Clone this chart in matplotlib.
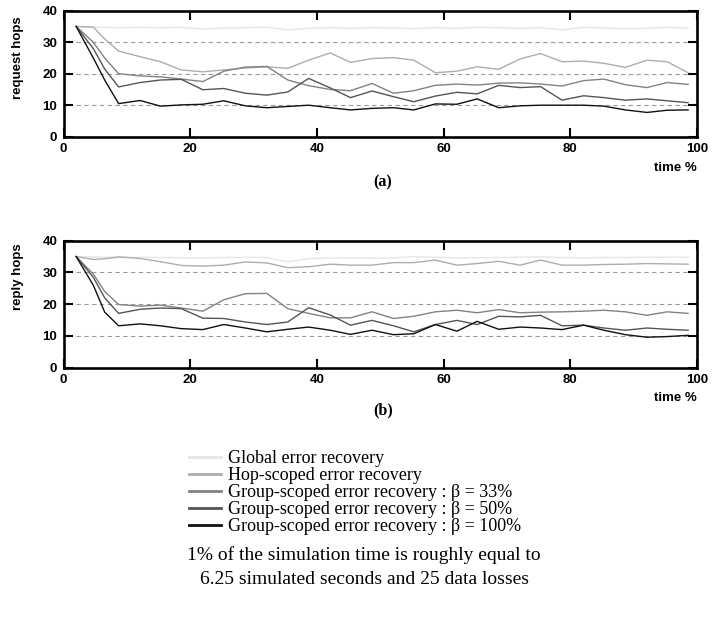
import matplotlib
matplotlib.use("Agg")
import matplotlib.pyplot as plt

time_pct = [2, 4.7, 6.5, 8.7, 12.1, 15.3, 18.6, 22, 25.3, 28.7, 32.1, 35.4, 38.7, 42.1, 45.3,
            48.7, 52.1, 55.3, 58.7, 62.1, 65.3, 68.7, 72.1, 75.3, 78.7, 82.1, 85.3, 88.7, 92.1,
            95.3, 98.6]

# (a) request hops
req_global = [35, 34.8, 34.7, 34.6, 34.7, 34.6, 34.7, 34.2, 34.5, 34.6, 34.8, 33.9, 34.4, 34.6, 34.4,
              34.6, 34.5, 34.3, 34.6, 34.4, 34.7, 34.6, 34.4, 34.6, 33.9, 34.7, 34.5, 34.3, 34.4,
              34.7, 34.4]
req_hop = [35, 34.8, 31, 27.2, 25.4, 23.8, 21.2, 20.6, 21.2, 21.8, 22.2, 21.7, 24.3, 26.6, 23.6,
           24.8, 25.1, 24.3, 20.3, 20.8, 22.2, 21.4, 24.7, 26.4, 23.8, 24, 23.3, 22, 24.3,
           23.8, 20.3]
req_g33 = [35, 30, 25, 20, 19.3, 19, 18.3, 17.5, 20.8, 22.1, 22.3, 18, 16.2, 15, 14.6,
           16.9, 13.8, 14.6, 16.3, 16.7, 16.4, 17, 17.1, 16.7, 16.1, 17.8, 18.3, 16.5, 15.6,
           17.2, 16.6]
req_g50 = [35, 28, 21.5, 15.8, 17.2, 18, 18.2, 14.9, 15.3, 13.8, 13.2, 14.2, 18.5, 15.5, 12.4,
           14.5, 12.7, 11.1, 12.9, 14.1, 13.6, 16.3, 15.6, 15.9, 11.6, 13, 12.4, 11.6, 12,
           11.4, 10.8]
req_g100 = [35, 25, 18, 10.5, 11.5, 9.7, 10.1, 10.3, 11.4, 9.8, 9.2, 9.6, 10, 9.2, 8.5,
            9, 9.2, 8.5, 10.4, 10.3, 12, 9.2, 9.8, 10, 10, 10, 9.7, 8.5, 7.7,
            8.4, 8.5]

# (b) reply hops
rep_global = [35, 34.9, 34.8, 34.7, 34.8, 34.7, 34.6, 34.6, 34.7, 34.8, 34.7, 33.3, 34.4, 34.5, 34.6,
              34.5, 34.6, 35, 34.8, 34.6, 34.6, 34.7, 34.8, 34.9, 34.7, 34.6, 34.7, 34.7, 34.8,
              34.8, 34.8]
rep_hop = [35, 34.1, 34.3, 34.9, 34.4, 33.4, 32.2, 32, 32.3, 33.3, 33, 31.5, 31.8, 32.6, 32.3,
           32.3, 33.1, 33.1, 33.9, 32.3, 32.8, 33.5, 32.3, 33.9, 32.3, 32.3, 32.5, 32.6, 32.8,
           32.7, 32.6]
rep_g33 = [35, 29.5, 24, 19.9, 19.4, 19.7, 18.8, 17.8, 21.4, 23.3, 23.4, 18.6, 17.1, 15.7, 15.7,
           17.6, 15.5, 16.2, 17.6, 18.1, 17.3, 18.3, 17.3, 17.5, 17.6, 17.8, 18.1, 17.6, 16.5,
           17.6, 17.1]
rep_g50 = [35, 28.5, 22, 17.1, 18.4, 18.8, 18.6, 15.6, 15.5, 14.4, 13.6, 14.4, 18.9, 16.6, 13.4,
           14.9, 13.2, 11.3, 13.6, 14.9, 13.6, 16.2, 16, 16.5, 13.2, 13.4, 12.5, 11.8, 12.5,
           12.1, 11.8]
rep_g100 = [35, 26, 17.5, 13.2, 13.8, 13.2, 12.3, 12, 13.6, 12.5, 11.3, 12.1, 12.8, 11.8, 10.5,
            11.8, 10.4, 10.7, 13.6, 11.5, 14.6, 12.1, 12.8, 12.5, 12, 13.4, 11.8, 10.4, 9.6,
            9.8, 10.2]

labels = ["Global error recovery",
          "Hop-scoped error recovery",
          "Group-scoped error recovery : β = 33%",
          "Group-scoped error recovery : β = 50%",
          "Group-scoped error recovery : β = 100%"]
colors = ["#e6e6e6", "#adadad", "#828282", "#555555", "#111111"]

sans = "Liberation Sans"
serif = "Liberation Serif"


def Draw_Panel(ax, series, ylabel, ylabel_y, letter, letter_y, time_y):
    for i, (vals, c, lab) in enumerate(zip(series, colors, labels)):
        ax.plot(time_pct, vals, color=c, lw=1.0, label=lab, zorder=2 + i)
    ax.hlines([10, 20, 30], time_pct[0], time_pct[-1], colors="#9a9a9a",
              linestyles=(0, (4, 3)), lw=0.8, zorder=1)
    ax.set_xlim(0, 100)
    ax.set_ylim(0, 40)
    ax.set_xticks(range(0, 101, 20))
    ax.set_yticks(range(0, 41, 10))
    ax.tick_params(direction="in", top=True, right=True, length=6.5, width=1.5,
                   labelsize=9.5, pad=4.5)
    for t in ax.get_xticklabels() + ax.get_yticklabels():
        t.set_fontfamily(sans)
        t.set_fontweight("bold")
    for s in ax.spines.values():
        s.set_linewidth(1.9)
    ax.set_ylabel(ylabel, fontfamily=sans, fontweight="bold", fontsize=9.5)
    ax.yaxis.set_label_coords(-0.062, ylabel_y)
    ax.text(1.0, time_y, "time %", transform=ax.transAxes, ha="right", va="center",
            fontfamily=sans, fontweight="bold", fontsize=9.5)
    ax.text(0.504, letter_y, letter, transform=ax.transAxes, ha="center", va="center",
            fontfamily=serif, fontweight="bold", fontsize=11.5)


fig = plt.figure(figsize=(7.28, 6.18), dpi=100)
ax1 = fig.add_axes([63.5 / 728, 1 - 136.7 / 618, 633.5 / 728, 126 / 618])
ax2 = fig.add_axes([63.5 / 728, 1 - 367.7 / 618, 633.5 / 728, 127 / 618])

Draw_Panel(ax1, [req_global, req_hop, req_g33, req_g50, req_g100],
           "request hops", 0.63, "(a)", -0.36, -0.248)
Draw_Panel(ax2, [rep_global, rep_hop, rep_g33, rep_g50, rep_g100],
           "reply hops", 0.714, "(b)", -0.333, -0.239)

handles, labs = ax1.get_legend_handles_labels()
leg = fig.legend(handles, labs, loc="upper left", bbox_to_anchor=(189 / 728, 1 - 450 / 618),
                 frameon=False, borderpad=0, borderaxespad=0, handlelength=1.77,
                 handletextpad=0.4, labelspacing=0.0, prop={"family": serif, "size": 13})
for line in leg.get_lines():
    line.set_linewidth(2.0)

fig.text(0.5, 1 - 555 / 618, "1% of the simulation time is roughly equal to",
         ha="center", va="center", fontfamily=serif, fontsize=14)
fig.text(0.5, 1 - 580 / 618, "6.25 simulated seconds and 25 data losses",
         ha="center", va="center", fontfamily=serif, fontsize=14)

fig.savefig("out.png", dpi=100)
